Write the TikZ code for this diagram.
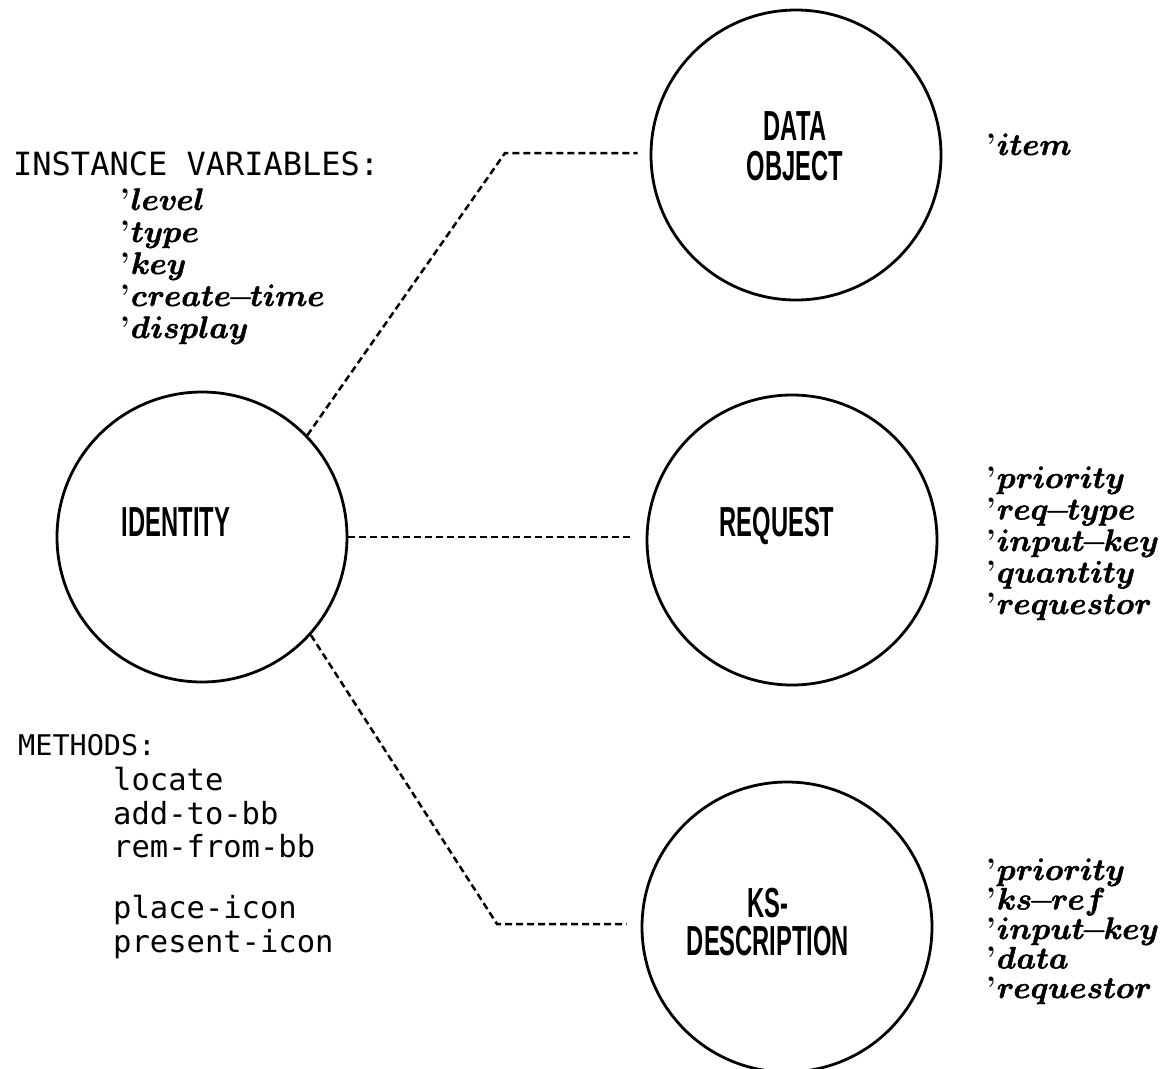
\documentclass[tikz,border=0pt]{standalone}
\usepackage{fontspec}
\usepackage{unicode-math}
\setmathfont{Latin Modern Math}[FakeBold=1.6]
\usetikzlibrary{positioning}
\newfontfamily\plotfont{DejaVu Sans Mono}
\newfontfamily\circfont{Liberation Sans}[FakeStretch=0.565]
\newcommand{\attr}[1]{\textbf{'}\kern1pt$\symbfit{#1}$}
\newcommand{\hy}{\mkern-1.5mu{-}\mkern-1.5mu}

\tikzset{
  obj/.style={circle, draw, line width=2.8pt, minimum size=290pt, inner sep=0pt},
  objlabel/.style={align=center, inner sep=0pt, font=\circfont\bfseries\fontsize{42}{38}\selectfont},
  link/.style={dash pattern=on 7pt off 4pt, line width=2.5pt},
  plot/.style={anchor=base west, inner sep=0pt, font=\plotfont\fontsize{30.5}{33}\selectfont},
  attrib/.style={anchor=base west, inner sep=0pt, font=\fontsize{31}{31}\selectfont}
}

\begin{document}
\begin{tikzpicture}[x=1pt,y=-1pt]
\useasboundingbox (0,0) rectangle (1163,1069);

% the four objects
\node[obj] (ident) at (202,537) {};
\node[obj] (data) at (796,155) {};
\node[obj] (req) at (792,540) {};
\node[obj] (ksd) at (787,927) {};
\node[objlabel] (identlbl) at (176,522) {IDENTITY};
\node[objlabel, font=\circfont\bfseries\fontsize{42}{40}\selectfont] (datalbl) at (795,146) {DATA\\OBJECT};
\node[objlabel] (reqlbl) at (777,526) {REQUEST};
\node[objlabel] (ksdlbl) at (768,922) {KS-\\DESCRIPTION};

% dashed links
\coordinate (bendA) at (505,153);
\coordinate (bendB) at (497,924);
\draw[link, shorten >=12pt] (ident.44) -- (bendA) -- (bendA -| data.west);
\draw[link, shorten >=12pt] (ident.east) -- (ident.east -| req.west);
\draw[link, shorten >=14pt] (ident.-42) -- (bendB) -- (bendB -| ksd.west);

% instance variables
\node[plot, font=\plotfont\fontsize{32}{34}\selectfont] (ivtitle) at (13,175) {INSTANCE VARIABLES:};
\foreach \w [count=\i] in {level,type,key,create\hy time,display}
  \node[attrib] (iv\i) at (120,178+32*\i) {\attr{\w}};

% methods
\node[plot, font=\plotfont\fontsize{28.5}{33}\selectfont] (mtitle) at (18,755) {METHODS:};
\foreach \m/\y [count=\i] in {locate/790,add-to-bb/824,rem-from-bb/857,place-icon/918,present-icon/952}
  \node[plot] (m\i) at (113,\y) {\m};

% slots of the other objects
\node[attrib] (dslot) at (986,155) {\attr{item}};
\foreach \w [count=\i] in {priority,req\hy type,input\hy key,quantity,requestor}
  \node[attrib] (rq\i) at (986,456.5+31.5*\i) {\attr{\w}};
\foreach \w [count=\i] in {priority,ks\hy ref,input\hy key,data,requestor}
  \node[attrib] (ks\i) at (986,850.5+29.5*\i) {\attr{\w}};
\end{tikzpicture}
\end{document}
